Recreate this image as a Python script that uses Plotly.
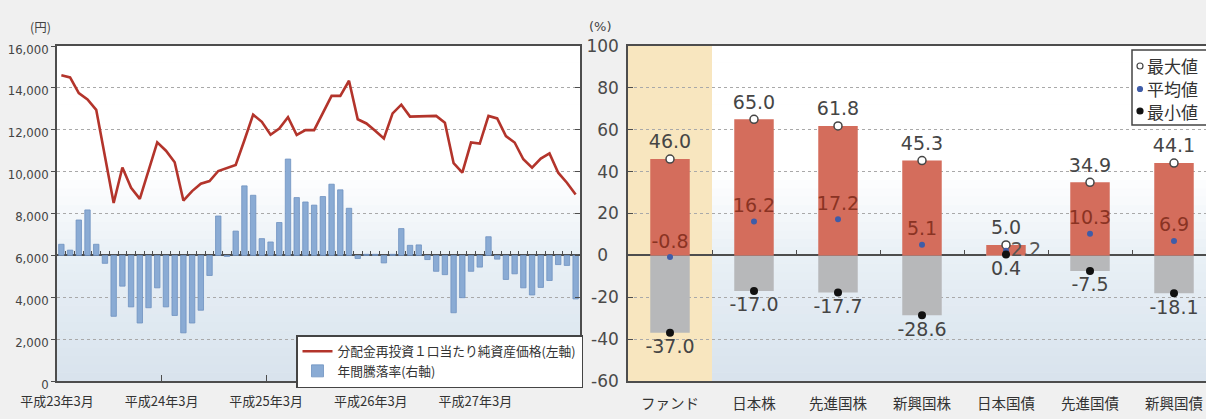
import plotly.graph_objects as go

# ---------------- data : left chart (monthly, 平成23年3月 〜 平成28年2月) ----------------
nav_yen = [14600, 14500, 13750, 13450, 12950, 10750, 8500, 10200, 9230, 8700,
           10000, 11400, 11000, 10450, 8620, 9070, 9420, 9550, 10030, 10170,
           10320, 11500, 12720, 12380, 11760, 12060, 12600, 11750, 11980, 11980,
           12820, 13620, 13620, 14340, 12500, 12300, 11950, 11580, 12780, 13200,
           12630, 12630, 12630, 12660, 12340, 10400, 9950, 11390, 11340, 12660,
           12540, 11700, 11390, 10590, 10190, 10620, 10870, 9950, 9470, 8910]
annual_return_pct = [5.3, 2.5, 16.9, 21.7, 5.3, -3.8, -29.1, -14.7, -24.6, -32.3,
                     -25.0, -15.5, -24.6, -28.7, -37.0, -32.3, -26.2, -9.6, 18.8, -0.5,
                     11.6, 33.2, 28.7, 8.0, 6.4, 15.7, 46.0, 27.6, 25.5, 24.0,
                     28.1, 34.0, 31.3, 22.5, -1.5, 0.5, 0.5, -3.6, 0.5, 12.8,
                     4.8, 5.0, -2.0, -7.6, -9.2, -27.4, -20.2, -7.6, -5.6, 8.9,
                     -1.8, -11.5, -8.8, -15.5, -18.9, -15.3, -12.0, -4.4, -4.8, -20.8]
month_tick_labels = ["平成23年3月", "平成24年3月", "平成25年3月", "平成26年3月", "平成27年3月"]
yen_ticks = [0, 2000, 4000, 6000, 8000, 10000, 12000, 14000, 16000]
pct_ticks = [-60, -40, -20, 0, 20, 40, 60, 80, 100]
series_names = ["分配金再投資１口当たり純資産価格(左軸)", "年間騰落率(右軸)"]

# ---------------- data : right chart ----------------
asset_classes = ["ファンド", "日本株", "先進国株", "新興国株", "日本国債", "先進国債", "新興国債"]
max_pct = [46.0, 65.0, 61.8, 45.3, 5.0, 34.9, 44.1]
avg_pct = [-0.8, 16.2, 17.2, 5.1, 2.2, 10.3, 6.9]
min_pct = [-37.0, -17.0, -17.7, -28.6, 0.4, -7.5, -18.1]
stat_legend = ["最大値", "平均値", "最小値"]

# ---------------- geometry / style ----------------
W, H = 1206, 419
def fx(p):
    return p / W
def fy(p):
    return 1 - p / H

TOP, BOT = 46, 381
LX0, LX1 = 57, 580
RX0 = 628
CAT_PX = 84
yb, yt = fy(BOT), fy(TOP)
zero_pos = yb + (0 - pct_ticks[0]) / (pct_ticks[-1] - pct_ticks[0]) * (yt - yb)

JP = "Noto Sans CJK JP"
NUM = "DejaVu Sans"
NARROW = "DejaVu Sans Condensed, Liberation Sans Narrow, DejaVu Sans"
FRAME = "#4d4d4d"
GRID = "#a9a9a9"

months = list(range(len(nav_yen)))
x_left_range = [-0.5, len(months) - 0.5]
x_right_range = [-0.5, -0.5 + (W - RX0) / CAT_PX]

fig = go.Figure()

# left chart
fig.add_trace(go.Scatter(
    x=months, y=nav_yen, xaxis="x", yaxis="y", mode="lines",
    line=dict(color="#b3342b", width=2.6), name=series_names[0]))
fig.add_trace(go.Bar(
    x=months, y=annual_return_pct, xaxis="x", yaxis="y2", width=0.62,
    marker=dict(color="#8aabd4", line=dict(color="#6f92c0", width=0.8)),
    name=series_names[1]))
fig.add_trace(go.Scatter(
    x=[months[0]], y=[0], xaxis="x3", yaxis="y2", mode="markers",
    marker=dict(opacity=0), showlegend=False, hoverinfo="skip"))

# right chart
fig.add_trace(go.Bar(
    x=asset_classes, y=min_pct, xaxis="x2", yaxis="y3", width=0.47,
    marker=dict(color="#b7b8ba", line=dict(width=0)), showlegend=False))
fig.add_trace(go.Bar(
    x=asset_classes, y=max_pct, xaxis="x2", yaxis="y3", width=0.47,
    marker=dict(color="#d46d5c", line=dict(width=0)), showlegend=False))
fig.add_trace(go.Scatter(
    x=[0], y=[0], xaxis="x4", yaxis="y3", mode="markers",
    marker=dict(opacity=0), showlegend=False, hoverinfo="skip"))

fmt = lambda v: f"{v:.1f}"
small = [m < 10 for m in max_pct]
fig.add_trace(go.Scatter(
    x=asset_classes, y=max_pct, xaxis="x2", yaxis="y3", mode="markers+text",
    text=[fmt(v) for v in max_pct], textposition="top center",
    textfont=dict(family=NUM, size=19, color="#454545"),
    marker=dict(symbol="circle", size=8, color="white", line=dict(color="#454545", width=1.5)),
    showlegend=False, name=stat_legend[0]))
fig.add_trace(go.Scatter(
    x=asset_classes, y=avg_pct, xaxis="x2", yaxis="y3", mode="markers+text",
    text=[fmt(v) for v in avg_pct],
    textposition=["middle right" if s else "top center" for s in small],
    textfont=dict(family=NUM, size=19, color=["#555555" if s else "#8a3323" for s in small]),
    marker=dict(symbol="circle", size=6, color="#3f5ca8"),
    showlegend=False, name=stat_legend[1]))
fig.add_trace(go.Scatter(
    x=asset_classes, y=min_pct, xaxis="x2", yaxis="y3", mode="markers+text",
    text=[fmt(v) for v in min_pct], textposition="bottom center",
    textfont=dict(family=NUM, size=19, color="#454545"),
    marker=dict(symbol="circle", size=8, color="#111111"),
    showlegend=False, name=stat_legend[2]))

# ---------------- background gradient shapes ----------------
def mix(c1, c2, t):
    return tuple(round(a + (b - a) * t) for a, b in zip(c1, c2))

stops = [(0.0, (216, 227, 237)), (0.375, (233, 240, 246)), (0.62, (255, 255, 255)), (1.0, (255, 255, 255))]
def grad(f):
    for (f0, c0), (f1, c1) in zip(stops[:-1], stops[1:]):
        if f0 <= f <= f1:
            return mix(c0, c1, (f - f0) / (f1 - f0))
    return stops[-1][1]

shapes = []
N = 40
for xref in ["x domain", "x2 domain"]:
    for i in range(N):
        f0, f1 = i / N, (i + 1) / N
        c = grad((f0 + f1) / 2)
        shapes.append(dict(type="rect", xref=xref, yref="paper", x0=0, x1=1,
                           y0=yb + f0 * (yt - yb), y1=yb + f1 * (yt - yb) + 0.001,
                           fillcolor=f"rgb{c}", line=dict(width=0), layer="below"))
shapes.append(dict(type="rect", xref="x2", yref="y3 domain", x0=-0.5, x1=0.5, y0=0, y1=1,
                   fillcolor="#f8e6bf", line=dict(width=0), layer="below"))

# custom legend of the right chart
shapes.append(dict(type="rect", xref="paper", yref="paper", x0=fx(1132), x1=fx(1220),
                   y0=fy(125), y1=fy(50), fillcolor="white",
                   line=dict(color="#444444", width=1.5), layer="above"))
leg_rows = [66, 89, 111]
leg_marks = [dict(r=3, fill="white", line="#444444"),
             dict(r=2.5, fill="#3f5ca8", line="#3f5ca8"),
             dict(r=3, fill="#111111", line="#111111")]
annotations = []
for row, mk, label in zip(leg_rows, leg_marks, stat_legend):
    shapes.append(dict(type="circle", xref="paper", yref="paper",
                       xsizemode="pixel", ysizemode="pixel",
                       xanchor=fx(1140), yanchor=fy(row),
                       x0=-mk["r"], x1=mk["r"], y0=-mk["r"], y1=mk["r"],
                       fillcolor=mk["fill"], line=dict(color=mk["line"], width=1.2),
                       layer="above"))
    annotations.append(dict(x=fx(1145), y=fy(row), xref="paper", yref="paper",
                            xanchor="left", yanchor="middle", showarrow=False,
                            text=label, font=dict(family=JP, size=17, color="#333333")))

annotations.append(dict(x=fx(28), y=fy(15), xref="paper", yref="paper", showarrow=False,
                        text="(円)", font=dict(family=JP, size=12.5, color="#444444")))
annotations.append(dict(x=fx(600), y=fy(17), xref="paper", yref="paper", showarrow=False,
                        text="(%)", font=dict(family=NUM, size=13, color="#444444")))

pct_text = [str(v) + ("\u2007" if len(str(v)) == 1 else "") for v in pct_ticks]

fig.update_layout(
    width=W, height=H, margin=dict(l=0, r=0, t=0, b=0, autoexpand=False),
    paper_bgcolor="#f0f0f0", plot_bgcolor="rgba(0,0,0,0)",
    barmode="overlay", shapes=shapes, annotations=annotations,
    showlegend=True,
    legend=dict(x=fx(296), y=fy(335), xanchor="left", yanchor="top",
                bgcolor="white", bordercolor="#444444", borderwidth=1.5,
                font=dict(family=JP, size=12.75, color="#333333"),
                itemwidth=30, tracegroupgap=0),
    xaxis=dict(domain=[fx(LX0), fx(LX1)], range=x_left_range, anchor="y", automargin=False,
               tickvals=[m - 0.5 for m in months[::12]], ticktext=month_tick_labels,
               ticks="inside", ticklen=6, tickcolor=FRAME, tickwidth=1.2,
               showline=True, linecolor=FRAME, linewidth=1.5, mirror=True,
               showgrid=False, zeroline=False, ticklabelstandoff=8,
               tickfont=dict(family=JP, size=13, color="#333333")),
    yaxis=dict(domain=[yb, yt], range=[yen_ticks[0], yen_ticks[-1]], anchor="x", automargin=False,
               tickvals=yen_ticks, tickformat=",d", ticklabelshift=3,
               ticks="outside", ticklen=4, tickcolor=FRAME,
               showline=True, linecolor=FRAME, linewidth=1.5,
               showgrid=True, gridcolor=GRID, griddash="dot", gridwidth=1,
               zeroline=False, tickfont=dict(family=NARROW, size=13, color="#444444")),
    yaxis2=dict(overlaying="y", side="right", anchor="x", automargin=False,
                range=[pct_ticks[0], pct_ticks[-1]], tickvals=pct_ticks,
                showticklabels=False, ticks="inside", ticklen=5, tickcolor=FRAME,
                showline=True, linecolor=FRAME, linewidth=1.5,
                showgrid=False, zeroline=True, zerolinecolor=FRAME, zerolinewidth=1.5),
    xaxis3=dict(overlaying="x", anchor="free", position=zero_pos, range=x_left_range, automargin=False,
                tickvals=[m - 0.5 for m in months[1:]], ticks="inside", ticklen=4,
                tickcolor=FRAME, tickwidth=1, showticklabels=False,
                showline=False, showgrid=False, zeroline=False),
    xaxis2=dict(domain=[fx(RX0), 1.0], anchor="y3", type="category", range=x_right_range,
                automargin=False,
                ticks="", showline=True, linecolor=FRAME, linewidth=1.5, mirror=True,
                showgrid=False, zeroline=False, ticklabelstandoff=9,
                tickfont=dict(family=JP, size=14.5, color="#333333")),
    yaxis3=dict(domain=[yb, yt], anchor="x2", range=[pct_ticks[0], pct_ticks[-1]], automargin=False,
                tickvals=pct_ticks, ticktext=pct_text,
                ticks="inside", ticklen=5, tickcolor=FRAME, ticklabelstandoff=4,
                showline=True, linecolor=FRAME, linewidth=1.5,
                showgrid=True, gridcolor=GRID, griddash="dot", gridwidth=1,
                zeroline=True, zerolinecolor=FRAME, zerolinewidth=1.5,
                tickfont=dict(family=NUM, size=17, color="#4a4a4a")),
    xaxis4=dict(overlaying="x2", anchor="free", position=zero_pos, range=x_right_range,
                automargin=False,
                tickvals=[i + 0.5 for i in range(len(asset_classes) - 1)],
                ticks="inside", ticklen=5, tickcolor=FRAME, tickwidth=1,
                showticklabels=False, showline=False, showgrid=False, zeroline=False),
)

fig.write_html("out.html", config={"displayModeBar": False},
               post_script="document.body.style.margin='0';document.body.style.overflow='hidden';")
